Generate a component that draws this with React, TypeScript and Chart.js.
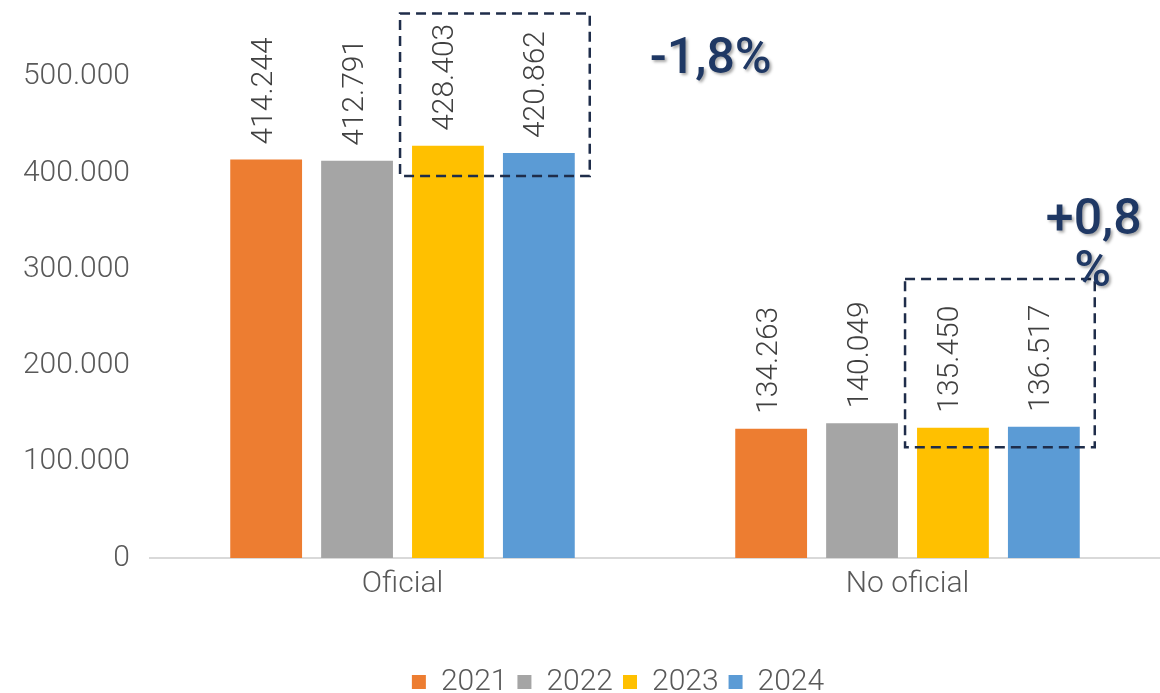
import React, { useEffect, useRef } from "react";
import { Chart, registerables } from "chart.js";

Chart.register(...registerables);

const categories = ["Oficial", "No oficial"];
const years = ["2021", "2022", "2023", "2024"];
const values2021 = [414244, 134263];
const values2022 = [412791, 140049];
const values2023 = [428403, 135450];
const values2024 = [420862, 136517];
const seriesValues = [values2021, values2022, values2023, values2024];
const colors = ["#ED7D31", "#A5A5A5", "#FFC000", "#5B9BD5"];
const yTicks = [0, 100000, 200000, 300000, 400000, 500000];
const yMax = 580000;
// highlighted boxes (value range per category, spanning the 2023 and 2024 bars)
const boxLow = [397000, 115000];
const boxHigh = [566000, 290000];
const changeLabels = [["-1,8%"], ["+0,8", "%"]];

const FONT = "Roboto, 'Liberation Sans', Arial, sans-serif";

function fmt(n: number): string {
  return String(Math.round(n)).replace(/\B(?=(\d{3})+(?!\d))/g, ".");
}

const legendShiftPlugin = {
  id: "legendShift",
  afterLayout(chart: any) {
    if (chart.legend) {
      chart.legend.left += 76;
    }
  },
};

const overlayPlugin = {
  id: "overlay",
  afterDatasetsDraw(chart: any) {
    const ctx = chart.ctx;
    const y = chart.scales.y;
    // data labels
    ctx.save();
    ctx.font = `300 30px ${FONT}`;
    ctx.fillStyle = "#404040";
    ctx.textAlign = "left";
    ctx.textBaseline = "middle";
    chart.data.datasets.forEach((ds: any, di: number) => {
      const meta = chart.getDatasetMeta(di);
      meta.data.forEach((el: any, i: number) => {
        ctx.save();
        ctx.translate(el.x - 2, el.y - 15);
        ctx.rotate(-Math.PI / 2);
        ctx.fillText(fmt(ds.data[i]), 0, 0);
        ctx.restore();
      });
    });
    ctx.restore();

    // dashed boxes + change labels
    const m2 = chart.getDatasetMeta(2);
    const m3 = chart.getDatasetMeta(3);
    categories.forEach((_c, i) => {
      const e2 = m2.data[i];
      const e3 = m3.data[i];
      const left = e2.x - e2.width / 2 - 12;
      const right = e3.x + e3.width / 2 + 15;
      const top = y.getPixelForValue(boxHigh[i]);
      const bottom = y.getPixelForValue(boxLow[i]);
      ctx.save();
      ctx.strokeStyle = "#1F2D4A";
      ctx.lineWidth = 2.5;
      ctx.setLineDash([10, 6]);
      ctx.strokeRect(left, top, right - left, bottom - top);
      ctx.restore();

      ctx.save();
      ctx.font = `500 50px ${FONT}`;
      ctx.fillStyle = "#1F3864";
      ctx.textAlign = "center";
      ctx.textBaseline = "middle";
      ctx.shadowColor = "rgba(0,0,0,0.35)";
      ctx.shadowOffsetX = 2;
      ctx.shadowOffsetY = 2;
      ctx.shadowBlur = 3;
      const lines = changeLabels[i];
      if (i === 0) {
        ctx.fillText(lines[0], right + 121, top + 47);
      } else {
        ctx.fillText(lines[0], right - 1, top - 58);
        ctx.fillText(lines[1], right - 2, top - 6);
      }
      ctx.restore();
    });
  },
};

export default function App() {
  const ref = useRef<HTMLCanvasElement | null>(null);
  useEffect(() => {
    document.body.style.margin = "0";
    const canvas = ref.current;
    if (!canvas) return;
    const chart = new Chart(canvas, {
      type: "bar",
      data: {
        labels: categories,
        datasets: years.map((yr, i) => ({
          label: yr,
          data: seriesValues[i],
          backgroundColor: colors[i],
          borderWidth: 0,
          categoryPercentage: 0.72,
          barPercentage: 0.79,
        })),
      },
      options: {
        animation: false,
        responsive: false,
        maintainAspectRatio: false,
        layout: { padding: { top: 0, right: 0, left: 0, bottom: -14 } },
        plugins: {
          tooltip: { enabled: false },
          legend: {
            position: "bottom",
            labels: {
              boxWidth: 14,
              boxHeight: 14,
              padding: 10,
              color: "#595959",
              font: { family: FONT, size: 30, weight: "300" as any },
            },
          },
        },
        scales: {
          x: {
            grid: { display: false, drawTicks: false },
            border: { display: true, color: "#D9D9D9", width: 2 },
            afterFit: (scale: any) => {
              scale.height = 99;
            },
            ticks: {
              color: "#595959",
              padding: 8,
              font: { family: FONT, size: 30, weight: "300" as any },
            },
          },
          y: {
            min: 0,
            max: yMax,
            grid: { display: false, drawTicks: false },
            border: { display: false },
            afterBuildTicks: (scale: any) => {
              scale.ticks = yTicks.map((v) => ({ value: v }));
            },
            afterFit: (scale: any) => {
              scale.width = 150;
              scale.paddingTop = 0;
              scale.paddingBottom = 0;
            },
            ticks: {
              color: "#595959",
              padding: 20,
              font: { family: FONT, size: 30, weight: "300" as any },
              callback: (v: any) => fmt(Number(v)),
            },
          },
        },
      },
      plugins: [legendShiftPlugin, overlayPlugin],
    });
    return () => chart.destroy();
  }, []);
  return (
    <div style={{ width: 1160, height: 693, background: "#fff" }}>
      <canvas ref={ref} width={1160} height={693} style={{ display: "block" }} />
    </div>
  );
}
